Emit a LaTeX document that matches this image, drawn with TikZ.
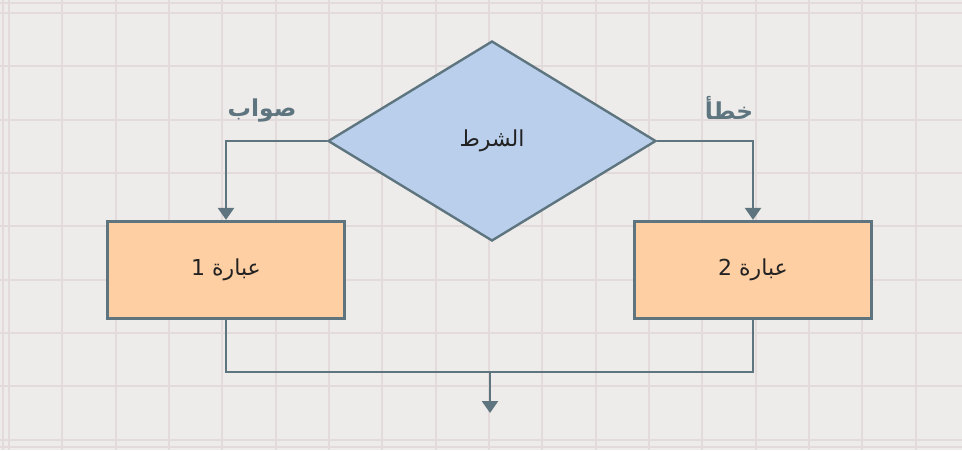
\documentclass[tikz,border=0pt]{standalone}
\usepackage{fontspec}
\newfontfamily\arabicfont[Script=Arabic]{DejaVu Sans}
\TeXXeTstate=1
\usetikzlibrary{shapes.geometric,arrows.meta}
\definecolor{bgcol}{HTML}{EEECEA}
\definecolor{gridcol}{HTML}{E3DBDB}
\definecolor{linecol}{HTML}{5E7580}
\definecolor{condfill}{HTML}{BACFEB}
\definecolor{boxfill}{HTML}{FECFA3}
\definecolor{textcol}{HTML}{222222}
\tikzset{
  gridline/.style={draw=gridcol, line width=1.5pt},
  flowline/.style={draw=linecol, line width=1.9pt},
  flowarrow/.style={flowline, -{Triangle[width=12pt,length=9pt]}},
  condnode/.style={diamond, draw=linecol, line width=1.8pt, fill=condfill,
    minimum width=246pt, minimum height=150pt, inner sep=0pt, aspect=1.64,
    font=\arabicfont\fontsize{16.5}{19}\selectfont, text=textcol},
  stmtnode/.style={rectangle, draw=linecol, line width=2.2pt, fill=boxfill,
    minimum width=178pt, minimum height=73pt, inner sep=0pt,
    font=\arabicfont\fontsize{16.5}{19}\selectfont, text=textcol},
  lblnode/.style={inner sep=0pt, font=\arabicfont\bfseries\fontsize{17.5}{20}\selectfont, text=linecol}
}
\begin{document}
\begin{tikzpicture}[x=0.75pt,y=-0.75pt]
\fill[bgcol] (0,0) rectangle (962,450);
\useasboundingbox (0,0) rectangle (962,450);
\foreach \i in {0,...,17} \draw[gridline] ({9+53.33*\i},0) -- ({9+53.33*\i},450);
\foreach \j in {0,...,8} \draw[gridline] (0,{13+53.33*\j}) -- (962,{13+53.33*\j});
\draw[gridline] (3,0) -- (3,450);
\draw[gridline] (0,3) -- (962,3);
\draw[gridline] (0,447) -- (962,447);

\node[condnode] (c) at (492,141) {\beginR الشرط\endR};
\node[stmtnode] (s1) at (226,270) {\beginR عبارة 1\endR};
\node[stmtnode] (s2) at (753,270) {\beginR عبارة 2\endR};
\node[lblnode] (t) at (262,110) {\beginR صواب\endR};
\node[lblnode] (f) at (729,108) {\beginR خطأ\endR};
\coordinate (m) at (490,372);
\coordinate (e) at (490,413);

\draw[flowarrow] (c.west) -| (s1.north);
\draw[flowarrow] (c.east) -| (s2.north);
\draw[flowline] (s1.south) |- (m);
\draw[flowline] (s2.south) |- (m);
\draw[flowarrow] (m) -- (e);
\end{tikzpicture}
\end{document}
